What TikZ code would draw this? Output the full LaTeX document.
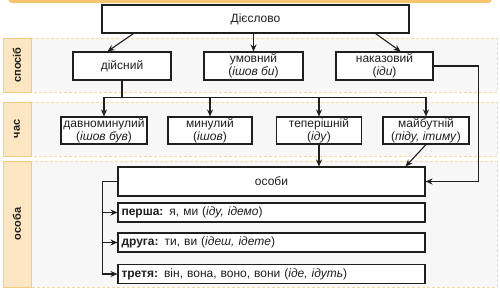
\documentclass[tikz,border=0pt]{standalone}
\usepackage{fontspec}
\setmainfont{Liberation Sans}
\usetikzlibrary{arrows.meta, positioning}
\definecolor{ink}{HTML}{1F1F1F}
\definecolor{bandline}{HTML}{F3D9A4}
\definecolor{bandfill}{HTML}{F7F7F7}
\definecolor{tagfill}{HTML}{FDE6C2}
\definecolor{tagline}{HTML}{F4CC80}
\definecolor{topbar}{HTML}{F7C56E}

\begin{document}
\begin{tikzpicture}[
    x=1pt, y=-1pt,
    >={Stealth[length=7pt, width=6pt]},
    every node/.style={font=\fontsize{12}{12.8}\selectfont, text=ink},
    box/.style  ={draw=ink, line width=1.1pt, fill=white, align=center,
                  inner sep=0pt},
    form/.style ={box, minimum width=307pt, minimum height=19pt,
                  text width=300pt, align=left, inner xsep=3.5pt},
    band/.style ={draw=bandline, dash pattern=on 3pt off 2pt,
                  line width=0.9pt, fill=bandfill},
    tag/.style  ={draw=tagline, fill=tagfill, line width=1pt},
    flow/.style ={->, line width=1.1pt, draw=ink},
]
\useasboundingbox (0,0) rectangle (500,289);
\clip (0,0) rectangle (500,289);
\fill[white] (0,0) rectangle (500,289);
\fill[topbar, rounded corners=4pt] (8,-10) rectangle (492,3);

% bands with their tags
\draw[band] (3,38) rectangle (497,92);
\draw[band] (3,102) rectangle (497,156);
\draw[band] (3,161) rectangle (497,287);
\draw[tag] (3,38) rectangle (31,92);
\draw[tag] (3,102) rectangle (31,156);
\draw[tag] (3,161) rectangle (31,287);
\node[rotate=90, font=\fontsize{11}{12}\selectfont\bfseries] (mood) at (17,65) {спосіб};
\node[rotate=90, font=\fontsize{11}{12}\selectfont\bfseries] (tense) at (17,129) {час};
\node[rotate=90, font=\fontsize{11}{12}\selectfont\bfseries] (person) at (17,224) {особа};

\node[box, minimum width=307pt, minimum height=28pt] (verb) at (255.5,19) {Дієслово};
\node[box, minimum width=98pt, minimum height=28pt] (real) at (122,66) {дійсний};
\node[box, minimum width=99pt, minimum height=28pt] (cond) at (253.5,66)
   {умовний\\(\textit{ішов би})};
\node[box, minimum width=97pt, minimum height=28pt] (imp) at (384.5,66)
   {наказовий\\(\textit{іди})};

\node[box, minimum width=86pt, minimum height=27pt] (pluperf) at (104,130.5)
   {давноминулий\\(\textit{ішов був})};
\node[box, minimum width=84pt, minimum height=27pt] (past) at (210,130.5)
   {минулий\\(\textit{ішов})};
\node[box, minimum width=85pt, minimum height=27pt] (pres) at (319,130.5)
   {теперішній\\(\textit{іду})};
\node[box, minimum width=86pt, minimum height=27pt] (fut) at (426,130.5)
   {майбутній\\(\textit{піду, ітиму})};

\node[box, minimum width=307pt, minimum height=29pt] (pers) at (271.5,181.5) {особи};
\node[form] (first) at (271.5,212.5) {\textbf{перша:} я, ми (\textit{іду, ідемо})};
\node[form] (second) at (271.5,242.5) {\textbf{друга:} ти, ви (\textit{ідеш, ідете})};
\node[form] (third) at (271.5,274) {\textbf{третя:} він, вона, воно, вони (\textit{іде, ідуть})};

\draw[flow] ([xshift=32pt]verb.south west) -- ([xshift=35pt]real.north west);
\draw[flow] (cond.north |- verb.south) -- (cond.north);
\draw[flow] ([xshift=-34pt]verb.south east) -- ([xshift=-33pt]imp.north east);
\draw[flow] (imp.east) -- ++(45,0) |- (pers.east);
\foreach \t in {pluperf,past,pres,fut}
  \draw[flow] (real.south) -- ++(0,17) -| (\t.north);
\draw[flow] (pres.south) -- (pres.south |- pers.north);
\draw[flow] (fut.south) -- ([xshift=-20pt]pers.north east);
\foreach \p in {first,second,third}
  \draw[flow] (pers.west) -- ++(-15,0) |- (\p.west);
\end{tikzpicture}
\end{document}
